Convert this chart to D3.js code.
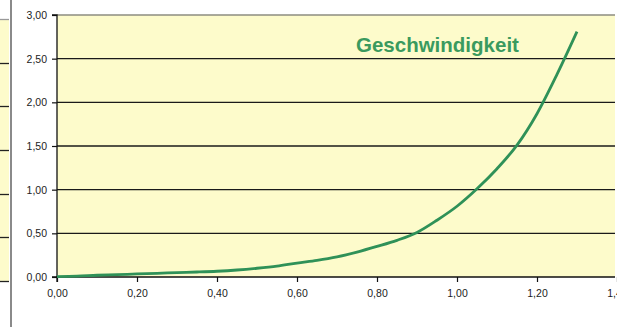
<!DOCTYPE html>
<html>
<head>
<meta charset="utf-8">
<script src="https://cdn.jsdelivr.net/npm/d3@7"></script>
<style>
  html, body { margin: 0; padding: 0; background: #fff; }
  svg { display: block; }
</style>
</head>
<body>
<svg id="chart" width="617" height="327"></svg>
<script>
// Geschwindigkeit über der Zeit
const xValues = [0.00, 0.05, 0.10, 0.15, 0.20, 0.25, 0.30, 0.35, 0.40, 0.45, 0.50, 0.55, 0.60,
                 0.65, 0.70, 0.75, 0.80, 0.85, 0.90, 0.95, 1.00, 1.05, 1.10, 1.15, 1.20, 1.25, 1.30];
const speed   = [0.005, 0.01, 0.02, 0.027, 0.035, 0.042, 0.05, 0.057, 0.066, 0.08, 0.10, 0.125, 0.16,
                 0.19, 0.23, 0.285, 0.35, 0.42, 0.51, 0.65, 0.81, 1.01, 1.24, 1.51, 1.87, 2.32, 2.81];
const xTicks = [0, 0.2, 0.4, 0.6, 0.8, 1.0, 1.2, 1.4];
const yTicks = [0, 0.5, 1.0, 1.5, 2.0, 2.5, 3.0];
const seriesName = "Geschwindigkeit";

const svg = d3.select("#chart");
const fmt = v => d3.format(".2f")(v).replace(".", ",");

const plot = { left: 57, right: 615, top: 15, bottom: 277 };
const x = d3.scaleLinear().domain([0, 1.4]).range([plot.left, plot.left + 560]);
const y = d3.scaleLinear().domain([0, 3]).range([plot.bottom, plot.top]);

// neighbouring chart edge on the left
const yNeighbour = d3.scaleLinear().domain([0, 3]).range([281, 19]);
svg.append("rect").attr("x", 0).attr("y", yNeighbour(3)).attr("width", 9)
  .attr("height", yNeighbour(0) - yNeighbour(3)).attr("fill", "#fdfbcb");
svg.append("g").selectAll("line").data(yTicks).join("line")
  .attr("x1", 0).attr("x2", 9)
  .attr("y1", d => Math.round(yNeighbour(d)) + 0.5).attr("y2", d => Math.round(yNeighbour(d)) + 0.5)
  .attr("stroke", d => d === 3 ? "#999" : "#222").attr("stroke-width", 1.3);
svg.append("line").attr("x1", 11).attr("x2", 11).attr("y1", 0).attr("y2", 327)
  .attr("stroke", "#8a8a8a").attr("stroke-width", 2);

// plot area
svg.append("rect").attr("x", plot.left).attr("y", plot.top)
  .attr("width", plot.right - plot.left).attr("height", plot.bottom - plot.top)
  .attr("fill", "#fdfbcb");

// gridlines
svg.append("g").selectAll("line").data(yTicks.filter(d => d > 0 && d < 3)).join("line")
  .attr("x1", plot.left).attr("x2", plot.right)
  .attr("y1", d => y(d)).attr("y2", d => y(d))
  .attr("stroke", "#1a1a1a").attr("stroke-width", 1.3);
svg.append("line").attr("x1", plot.left).attr("x2", plot.right)
  .attr("y1", y(3)).attr("y2", y(3)).attr("stroke", "#8c8c80").attr("stroke-width", 1.3);

// axes
const yAxis = d3.axisLeft(y).tickValues(yTicks).tickFormat(fmt).tickSize(5).tickPadding(5);
const xAxis = d3.axisBottom(x).tickValues(xTicks).tickFormat(fmt).tickSize(5).tickPadding(8);

const gy = svg.append("g").attr("transform", `translate(${plot.left},0)`).call(yAxis);
const gx = svg.append("g").attr("transform", `translate(0,${plot.bottom})`).call(xAxis);
[gx, gy].forEach(g => {
  g.select(".domain").attr("stroke", "#111").attr("stroke-width", 1.3);
  g.selectAll(".tick line").attr("stroke", "#111").attr("stroke-width", 1.2);
  g.selectAll("text").attr("font-family", "Liberation Sans, Arial, sans-serif")
    .attr("font-size", 10.5).attr("fill", "#222");
});
gx.select(".domain").attr("d", `M${plot.left},5V0H${plot.right}`);
gy.select(".domain").attr("d", `M-5,${y(3)}H0V${plot.bottom}H-5`);

// series line
const line = d3.line().x((d, i) => x(xValues[i])).y(d => y(d)).curve(d3.curveMonotoneX);
svg.append("path").datum(speed).attr("d", line)
  .attr("fill", "none").attr("stroke", "#2f9158").attr("stroke-width", 2.8)
  .attr("stroke-linejoin", "round");

// series label
svg.append("text").attr("x", 356).attr("y", 52)
  .attr("font-family", "Liberation Sans, Arial, sans-serif").attr("font-weight", "bold")
  .attr("font-size", 20.5).attr("fill", "#3a9a5e").text(seriesName);
</script>
</body>
</html>
